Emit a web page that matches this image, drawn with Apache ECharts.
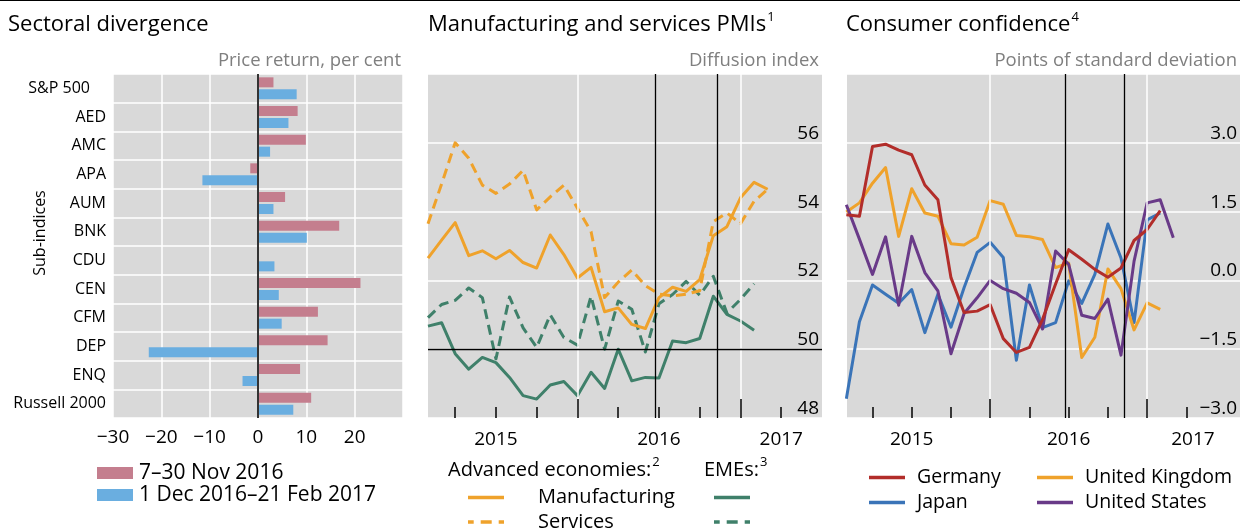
<!DOCTYPE html>
<html>
<head>
<meta charset="utf-8">
<script src="https://cdn.jsdelivr.net/npm/echarts@6/dist/echarts.min.js"></script>
<style>
  html, body { margin: 0; padding: 0; background: #fff; }
  #chart { width: 1240px; height: 531px; }
</style>
</head>
<body>
<div id="chart"></div>
<script>
// ---- data ----
// left panel: sector price returns, per cent
const barCategories = ['S&P 500', 'AED', 'AMC', 'APA', 'AUM', 'BNK', 'CDU', 'CEN', 'CFM', 'DEP', 'ENQ', 'Russell 2000'];
const novReturns = [3.2, 8.2, 9.9, -1.6, 5.6, 16.8, 0, 21.2, 12.4, 14.4, 8.7, 11.0];
const decFebReturns = [8.0, 6.3, 2.5, -11.5, 3.2, 10.1, 3.4, 4.3, 4.9, -22.6, -3.2, 7.3];

// months counted from Jan 2015 = 0
const advMonths = [1, 2, 3, 4, 5, 6, 7, 8, 9, 10, 11, 12, 13, 14, 15, 16, 17, 18, 19, 20, 21, 22, 23, 24, 25, 26];
const emeMonths = [1, 2, 3, 4, 5, 6, 7, 8, 9, 10, 11, 12, 13, 14, 15, 16, 17, 18, 19, 20, 21, 22, 23, 24, 25];
const advManufacturing = [52.65, 53.17, 53.68, 52.72, 52.86, 52.63, 52.87, 52.52, 52.36, 53.32, 52.75, 52.07, 52.38,
  51.09, 51.2, 50.72, 50.6, 51.5, 51.8, 51.68, 52.02, 53.3, 53.56, 54.4, 54.85, 54.65];
const advServices = [53.65, 54.8, 56.0, 55.55, 54.77, 54.53, 54.8, 55.2, 54.05, 54.43, 54.77, 54.1, 53.42,
  51.5, 51.95, 52.3, 51.85, 51.6, 51.55, 51.6, 51.7, 53.71, 53.96, 53.65, 54.3, 54.65];
const emeManufacturing = [50.67, 50.77, 49.87, 49.42, 49.76, 49.61, 49.18, 48.65, 48.55, 48.96, 49.06, 48.65, 49.33,
  48.86, 50.0, 49.08, 49.18, 49.16, 50.24, 50.19, 50.31, 51.54, 51.01, 50.82, 50.55];
const emeServices = [50.92, 51.3, 51.42, 51.78, 51.5, 49.72, 51.52, 50.62, 50.05, 51.0, 50.34, 50.12, 51.54,
  50.0, 51.4, 51.16, 49.92, 51.32, 51.59, 51.97, 51.57, 52.12, 51.05, 51.45, 51.9];

const ccMonths = [1, 2, 3, 4, 5, 6, 7, 8, 9, 10, 11, 12, 13, 14, 15, 16, 17, 18, 19, 20, 21, 22, 23, 24, 25, 26];
const germany = [1.43, 1.40, 2.92, 2.97, 2.84, 2.74, 2.08, 1.76, 0.06, -0.7, -0.67, -0.53, -1.27, -1.57, -1.46,
  -0.85, -0.08, 0.67, 0.46, 0.24, 0.07, 0.27, 0.87, 1.11, 1.52];
const japan = [-2.58, -0.9, -0.1, -0.3, -0.5, -0.2, -1.14, -0.3, -1.02, -0.16, 0.61, 0.83, 0.5, -1.74, -0.1,
  -1.03, -0.92, -0.01, -0.5, 0.13, 1.23, 0.49, -0.92, 1.32, 1.47];
const unitedKingdom = [1.49, 1.69, 2.12, 2.46, 0.96, 2.0, 1.47, 1.40, 0.80, 0.77, 0.94, 1.74, 1.66, 0.98, 0.95,
  0.89, 0.28, 0.38, -1.68, -1.24, 0.25, -0.18, -1.08, -0.49, -0.63];
const unitedStates = [1.65, 0.9, 0.13, 0.95, -0.54, 0.96, 0.17, -0.23, -1.6, -0.72, -0.38, 0.0, -0.18, -0.28,
  -0.48, -1.06, 0.64, 0.35, -0.76, -0.83, -0.41, -1.63, 0.42, 1.69, 1.76, 0.93];

// time axis furniture (month index)
const quarterTicks = [3, 6, 9, 15, 18, 21, 27];
const yearStartTicks = [12, 24];
const yearLabels = ['2015', '2016', '2017'];
const pmiYearLabelPos = [6, 18, 27];
const ccYearLabelPos = [6, 18, 27.5];
const eventLines = [17.75, 22.26]; // 23 Jun 2016, 8 Nov 2016

// ---- styling ----
const FONT = 'Open Sans';
const BG = '#D9D9D9';
const C_NOV = '#C47E8E', C_DEC = '#6AAEE0';
const C_ADV = '#EFA22B', C_EME = '#3F806A';
const C_DE = '#B22D2A', C_JP = '#3A74B8', C_UK = '#EFA22B', C_US = '#693A88';

const minus = s => String(s).replace('-', '\u2212');
const pairs = (xs, ys) => ys.map((y, i) => [xs[i], y]);

function timeAxes(grid, min, max, labelPos) {
  return [{
    type: 'value', gridIndex: grid, position: 'bottom', min: min, max: max, z: 5,
    axisLine: { show: false, onZero: false }, splitLine: { show: false },
    axisTick: { show: true, inside: true, length: 11, customValues: quarterTicks, lineStyle: { color: '#000', width: 1.5 } },
    axisLabel: { customValues: labelPos, fontSize: 19, color: '#000', margin: 12, fontFamily: FONT,
      formatter: v => yearLabels[labelPos.indexOf(v)] }
  }, {
    type: 'value', gridIndex: grid, position: 'bottom', offset: 0, min: min, max: max, z: 5,
    axisLine: { show: false, onZero: false }, splitLine: { show: false }, axisLabel: { show: false },
    axisTick: { show: true, inside: true, length: 19, customValues: yearStartTicks, lineStyle: { color: '#000', width: 1.5 } }
  }];
}

function refLines(xAxisIndex, yAxisIndex, extra) {
  const white = { color: '#fff', width: 1.5, type: 'solid' };
  const black = { color: '#000', width: 1.3, type: 'solid' };
  const data = yearStartTicks.map(v => ({ xAxis: v, lineStyle: white }))
    .concat(eventLines.map(v => ({ xAxis: v, lineStyle: black })))
    .concat(extra.map(v => ({ yAxis: v, lineStyle: black })));
  return {
    type: 'line', xAxisIndex: xAxisIndex, yAxisIndex: yAxisIndex, data: [], z: 1,
    markLine: { silent: true, symbol: 'none', label: { show: false }, data: data }
  };
}

function lineSeries(xAxisIndex, yAxisIndex, xs, ys, color, dashed) {
  return {
    type: 'line', xAxisIndex: xAxisIndex, yAxisIndex: yAxisIndex,
    data: pairs(xs, ys), symbol: 'none', z: 3,
    lineStyle: { color: color, width: 3, type: dashed ? [10, 6] : 'solid', join: 'round' },
    itemStyle: { color: color }
  };
}

// text helpers for titles / legends
const measure = document.createElement('canvas').getContext('2d');
function textWidth(str, size) {
  measure.font = size + 'px "' + FONT + '"';
  return measure.measureText(str).width;
}
function txt(x, y, str, size, opts) {
  opts = opts || {};
  return {
    type: 'text', x: x, y: y, rotation: opts.rotation || 0,
    style: { text: str, fill: opts.fill || '#000', fontSize: size, fontFamily: FONT,
      align: opts.align || 'left', verticalAlign: 'middle' }
  };
}
function titleWithSup(x, y, str, sup, size) {
  const w = textWidth(str, size);
  const out = [txt(x, y, str, size)];
  if (sup) out.push(txt(x + w + 1, y - 8, sup, 13));
  return out;
}
function legLine(x, y, color, dashed) {
  return {
    type: 'line', shape: { x1: x, y1: y, x2: x + 36, y2: y },
    style: { stroke: color, lineWidth: 3.5, lineDash: dashed ? [11, 7] : null, lineDashOffset: dashed ? 5.3 : 0 }
  };
}

const graphics = [
  { type: 'rect', shape: { x: 0, y: 0, width: 1240, height: 1 }, style: { fill: '#000' } },
  txt(8, 25, 'Sectoral divergence', 22),
  ...titleWithSup(428, 25, 'Manufacturing and services PMIs', '1', 22),
  ...titleWithSup(846, 25, 'Consumer confidence', '4', 22),
  txt(401, 61, 'Price return, per cent', 18.5, { align: 'right', fill: '#7F7F7F' }),
  txt(819, 61, 'Diffusion index', 18.5, { align: 'right', fill: '#7F7F7F' }),
  txt(1237, 61, 'Points of standard deviation', 18.5, { align: 'right', fill: '#7F7F7F' }),
  txt(40, 233, 'Sub-indices', 16, { align: 'center', rotation: Math.PI / 2 }),
  // left legend
  { type: 'rect', shape: { x: 97, y: 467, width: 36, height: 12 }, style: { fill: C_NOV } },
  txt(139, 473, '7\u201330 Nov 2016', 21),
  { type: 'rect', shape: { x: 97, y: 489, width: 36, height: 12 }, style: { fill: C_DEC } },
  txt(139, 495, '1 Dec 2016\u201321 Feb 2017', 21),
  // middle legend
  ...titleWithSup(448, 470, 'Advanced economies:', '2', 20),
  ...titleWithSup(704, 470, 'EMEs:', '3', 20),
  legLine(468, 497.5, C_ADV, false), txt(538, 497.5, 'Manufacturing', 20), legLine(714, 497.5, C_EME, false),
  legLine(468, 522, C_ADV, true), txt(538, 522, 'Services', 20), legLine(714, 522, C_EME, true),
  // right legend
  legLine(869, 477.5, C_DE, false), txt(917, 477.5, 'Germany', 19.5),
  legLine(1037, 477.5, C_UK, false), txt(1085, 477.5, 'United Kingdom', 19.5),
  legLine(869, 502.5, C_JP, false), txt(917, 502.5, 'Japan', 19.5),
  legLine(1037, 502.5, C_US, false), txt(1085, 502.5, 'United States', 19.5)
];

const option = {
  animation: false,
  textStyle: { fontFamily: FONT },
  grid: [
    { left: 113, top: 74, width: 290, height: 344, show: true, backgroundColor: BG, borderWidth: 0 },
    { left: 428, top: 74, width: 394, height: 344, show: true, backgroundColor: BG, borderWidth: 0 },
    { left: 847, top: 74, width: 393, height: 344, show: true, backgroundColor: BG, borderWidth: 0 }
  ],
  xAxis: [
    {
      type: 'value', gridIndex: 0, min: -30, max: 30, interval: 10,
      axisLine: { show: false }, axisTick: { show: false },
      splitLine: { lineStyle: { color: '#fff', width: 1.5 } },
      axisLabel: { fontSize: 19, color: '#000', margin: 10, showMaxLabel: false, formatter: v => minus(v) }
    },
    ...timeAxes(1, 1, 30, pmiYearLabelPos),
    ...timeAxes(2, 1.05, 31.1, ccYearLabelPos)
  ],
  yAxis: [
    {
      type: 'category', gridIndex: 0, data: barCategories, inverse: true,
      axisLine: { show: false }, axisTick: { show: false },
      splitLine: { show: true, lineStyle: { color: '#fff', width: 1.5 } },
      // the first label sits a little in from the others in the original
      axisLabel: { fontSize: 16, color: '#000', margin: 7,
        formatter: v => (v === barCategories[0] ? v + '\u2003' : v) }
    },
    {
      type: 'value', gridIndex: 1, position: 'right', min: 48, max: 58, interval: 2,
      axisLine: { show: false }, axisTick: { show: false },
      splitLine: { lineStyle: { color: '#fff', width: 1.5 } },
      axisLabel: { inside: true, margin: 3, verticalAlign: 'bottom', fontSize: 19, color: '#000', showMaxLabel: false }
    },
    {
      type: 'value', gridIndex: 2, position: 'right', min: -3, max: 4.5, interval: 1.5,
      axisLine: { show: false }, axisTick: { show: false },
      splitLine: { lineStyle: { color: '#fff', width: 1.5 } },
      axisLabel: { inside: true, margin: 3, verticalAlign: 'bottom', fontSize: 19, color: '#000', showMaxLabel: false,
        formatter: v => minus(v.toFixed(1)) }
    }
  ],
  series: [
    {
      type: 'bar', xAxisIndex: 0, yAxisIndex: 0, data: novReturns, barWidth: 10, barGap: '20%',
      itemStyle: { color: C_NOV },
      markLine: { silent: true, symbol: 'none', label: { show: false },
        lineStyle: { color: '#333', width: 2, type: 'solid' }, data: [{ xAxis: 0 }] }
    },
    { type: 'bar', xAxisIndex: 0, yAxisIndex: 0, data: decFebReturns, barWidth: 10, barGap: '20%', itemStyle: { color: C_DEC } },

    refLines(1, 1, [50]),
    lineSeries(1, 1, emeMonths, emeServices, C_EME, true),
    lineSeries(1, 1, emeMonths, emeManufacturing, C_EME, false),
    lineSeries(1, 1, advMonths, advServices, C_ADV, true),
    lineSeries(1, 1, advMonths, advManufacturing, C_ADV, false),

    refLines(3, 2, []),
    lineSeries(3, 2, ccMonths, japan, C_JP, false),
    lineSeries(3, 2, ccMonths, unitedKingdom, C_UK, false),
    lineSeries(3, 2, ccMonths, unitedStates, C_US, false),
    lineSeries(3, 2, ccMonths, germany, C_DE, false)
  ],
  graphic: { elements: graphics }
};

const chart = echarts.init(document.getElementById('chart'), null, { renderer: 'canvas' });
chart.setOption(option);
</script>
</body>
</html>
